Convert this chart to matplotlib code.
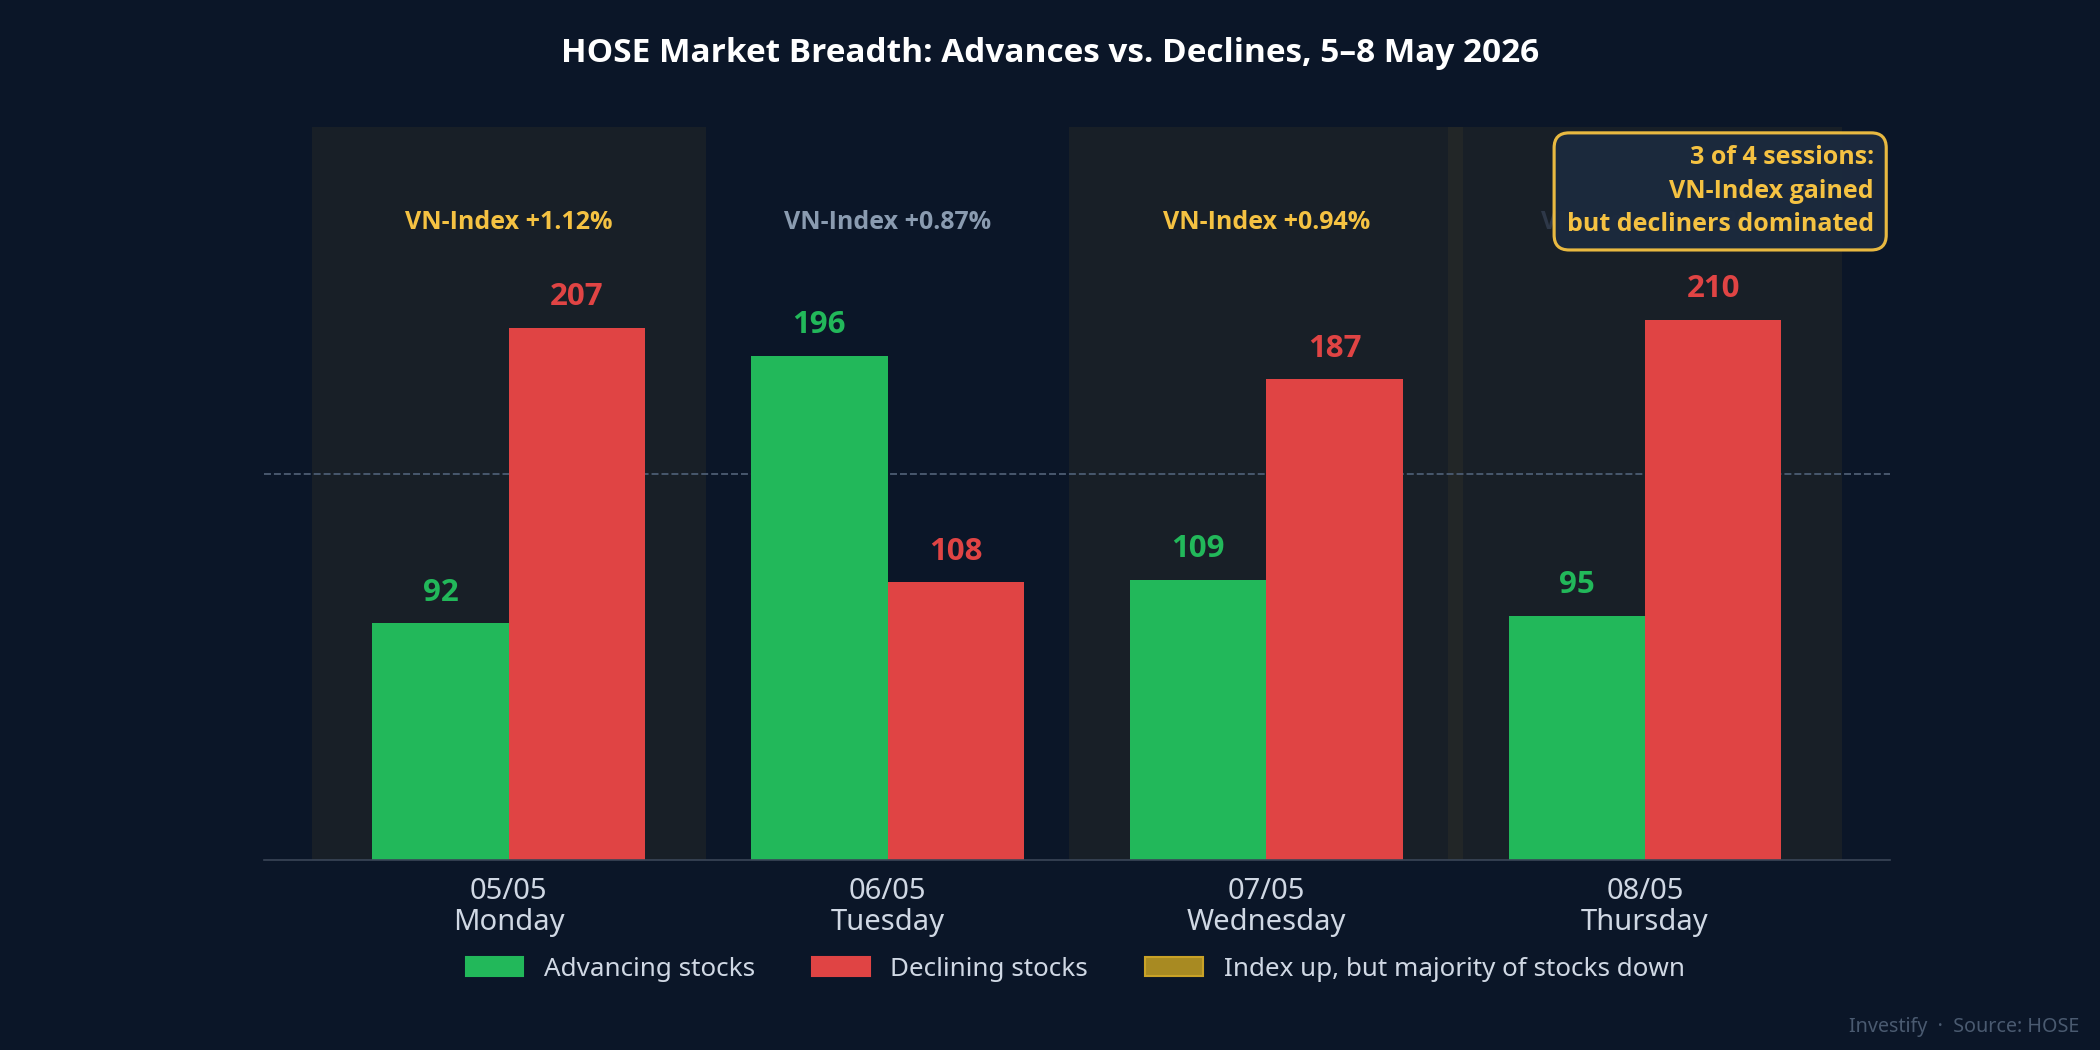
import matplotlib
matplotlib.use("Agg")
import matplotlib.pyplot as plt
from matplotlib.patches import Patch
import numpy as np

plt.rcParams["font.family"] = ["Noto Sans", "DejaVu Sans"]
BOLD = ["Open Sans", "DejaVu Sans"]

BG = "#0b1628"
GREEN = "#22b85a"
RED = "#e04444"
GOLD = "#f5c242"
GREY = "#8a9bb0"

dates = ["05/05", "06/05", "07/05", "08/05"]
days = ["Monday", "Tuesday", "Wednesday", "Thursday"]
advances = [92, 196, 109, 95]
declines = [207, 108, 187, 210]
index_chg = [1.12, 0.87, 0.94, 0.33]
divergent = [True, False, True, True]
midline = 150

x = np.arange(len(dates))
w = 0.36

fig = plt.figure(figsize=(14, 7), dpi=150, facecolor=BG)
ax = fig.add_axes([0.1256, 0.181, 0.7744, 0.698])
ax.set_facecolor(BG)

for i, d in enumerate(divergent):
    if d:
        ax.axvspan(i - 0.52, i + 0.52, color="#c9a227", alpha=0.05, lw=0, zorder=0)
        ax.axvspan(i - 0.52, i + 0.52, color="#2a2a2a", alpha=0.22, lw=0, zorder=0)

ax.bar(x - w/2, advances, w, color=GREEN, zorder=2)
ax.bar(x + w/2, declines, w, color=RED, zorder=2)
ax.axhline(midline, ls="--", c="#4a5a70", lw=0.9, zorder=1)

for i in range(len(x)):
    ax.text(x[i] - w/2, advances[i] + 6, str(advances[i]), ha="center", va="bottom",
            color=GREEN, fontsize=15, fontweight="bold", family=BOLD)
    ax.text(x[i] + w/2, declines[i] + 6, str(declines[i]), ha="center", va="bottom",
            color=RED, fontsize=15, fontweight="bold", family=BOLD)
    col = GOLD if divergent[i] else GREY
    if i == 3:
        col = "#2e3848"
    ax.text(x[i], 248, f"VN-Index +{index_chg[i]:.2f}%", ha="center", va="center",
            color=col, fontsize=12, fontweight="bold", family=BOLD, zorder=1)

ax.text(0.99, 0.975, "3 of 4 sessions:\nVN-Index gained\nbut decliners dominated",
        transform=ax.transAxes, ha="right", va="top", color=GOLD, fontsize=12,
        fontweight="bold", family=BOLD, linespacing=1.45, zorder=5,
        bbox=dict(boxstyle="round,pad=0.5,rounding_size=0.6", fc="#1c2a3e",
                  ec=GOLD, lw=1.5, alpha=0.95))

ax.set_xlim(-0.647, 3.647)
ax.set_ylim(0, 285)
ax.set_xticks(x)
ax.set_xticklabels([f"{a}\n{b}" for a, b in zip(dates, days)], fontsize=14,
                   color="#d0d8e4", linespacing=1.1)
ax.tick_params(axis="x", length=0, pad=8)
ax.set_yticks([])
for s in ["top", "right", "left"]:
    ax.spines[s].set_visible(False)
ax.spines["bottom"].set_color("#3a4658")

fig.suptitle("HOSE Market Breadth: Advances vs. Declines, 5\u20138 May 2026",
             color="white", fontsize=16, fontweight="bold", family=BOLD, y=0.965)

handles = [Patch(color=GREEN, label="Advancing stocks"),
           Patch(color=RED, label="Declining stocks"),
           Patch(fc="#a88a22", ec="#c9a227", label="Index up, but majority of stocks down")]
fig.legend(handles=handles, loc="center", bbox_to_anchor=(0.512, 0.077), ncol=3,
           frameon=False, fontsize=12.5, labelcolor="#d0d8e4", handlelength=2.2,
           columnspacing=2.2)

fig.text(0.99, 0.012, "Investify  \u00b7  Source: HOSE", ha="right", va="bottom",
         color="#4a5a70", fontsize=9.5)

fig.savefig("out.png", dpi=150, facecolor=BG)
